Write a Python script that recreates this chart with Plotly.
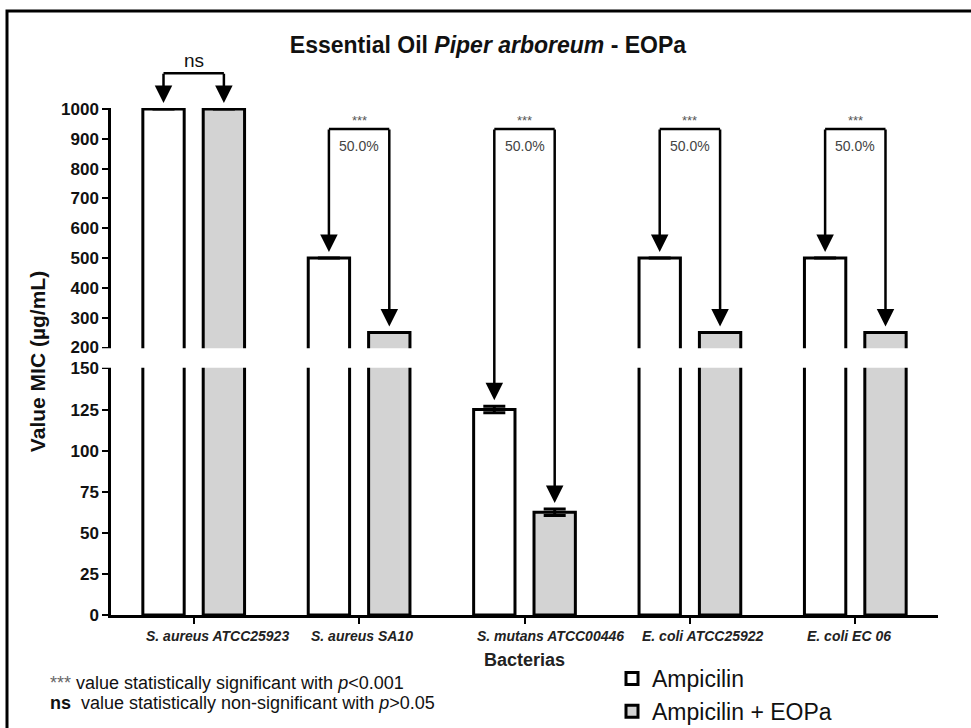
import plotly.graph_objects as go

# ---------------- data ----------------
categories = ["S. aureus ATCC25923", "S. aureus SA10", "S. mutans ATCC00446",
              "E. coli ATCC25922", "E. coli EC 06"]
ampicilin = [1000, 500, 125, 500, 500]
ampicilin_eopa = [1000, 250, 62.5, 250, 250]
err_ampicilin = [0, 0, 2, 0, 0]
err_eopa = [0, 0, 2, 0, 0]
significance = ["ns", "***", "***", "***", "***"]
reduction = ["", "50.0%", "50.0%", "50.0%", "50.0%"]
bracket_level = [1120, 933, 933, 933, 933]
lower_ticks = [0, 25, 50, 75, 100, 125, 150]
upper_ticks = [200, 300, 400, 500, 600, 700, 800, 900, 1000]

# ---------------- broken-axis mapping ----------------
BREAK_LO, BREAK_HI = 150, 200
GAP = 12.75            # display units for the gap
UPPER_SCALE = 0.1814   # display units per value unit above the break


def disp(v):
    if v <= (BREAK_LO + BREAK_HI) / 2:
        return v
    return BREAK_LO + GAP + (v - BREAK_HI) * UPPER_SCALE


def disp_err(vals, errs):
    return [disp(v + e) - disp(v) for v, e in zip(vals, errs)]


W, H = 971, 728
ML, MT = 111, 108
MR = W - 938
MB = H - 615
PW, PH = W - ML - MR, H - MT - MB
X_RANGE = [-0.5, 4.5]
Y_RANGE = [0, disp(1000) + 0.6]


def px_x(px):   # screen pixel -> paper x
    return (px - ML) / PW


def px_y(py):   # screen pixel -> paper y
    return (H - MB - py) / PH


def xp(x):      # data x -> paper x
    return (x - X_RANGE[0]) / (X_RANGE[1] - X_RANGE[0])


def yp(v):      # data value -> paper y (through the broken-axis mapping)
    return (disp(v) - Y_RANGE[0]) / (Y_RANGE[1] - Y_RANGE[0])


FONT = "Liberation Sans, Arial, sans-serif"
GRAY = "#d3d3d3"
BARGAP, GROUPGAP = 0.27, 0.315
OFF = (1 - BARGAP) / 4
xs = list(range(len(categories)))

fig = go.Figure()
fig.add_trace(go.Bar(
    x=xs, y=[disp(v) for v in ampicilin], name="Ampicilin",
    marker=dict(color="white", line=dict(color="black", width=3)),
    error_y=dict(type="data", array=disp_err(ampicilin, err_ampicilin),
                 color="black", thickness=3, width=11),
    hoverinfo="skip"))
fig.add_trace(go.Bar(
    x=xs, y=[disp(v) for v in ampicilin_eopa], name="Ampicilin + EOPa",
    marker=dict(color=GRAY, line=dict(color="black", width=3)),
    error_y=dict(type="data", array=disp_err(ampicilin_eopa, err_eopa),
                 color="black", thickness=3, width=11),
    hoverinfo="skip"))

shapes = [
    # white band hiding the axis break
    dict(type="rect", xref="paper", yref="paper", x0=-0.012, x1=1.0,
         y0=yp(BREAK_LO) + 0.0015, y1=yp(BREAK_HI) - 0.0015,
         fillcolor="white", line=dict(width=0), layer="above"),
    # outer frame (top & left visible)
    dict(type="rect", xref="paper", yref="paper", x0=px_x(7), x1=px_x(1000),
         y0=px_y(760), y1=px_y(11), line=dict(color="black", width=3), layer="above"),
]

annotations = []
for i in xs:
    lvl = disp(bracket_level[i])
    shapes.append(dict(type="line", xref="paper", yref="paper",
                       x0=xp(i - OFF), x1=xp(i + OFF),
                       y0=yp(bracket_level[i]), y1=yp(bracket_level[i]),
                       line=dict(color="black", width=2.5), layer="above"))
    for xc, top in [(i - OFF, ampicilin[i] + err_ampicilin[i]),
                    (i + OFF, ampicilin_eopa[i] + err_eopa[i])]:
        annotations.append(dict(
            x=xc, y=disp(top), xref="x", yref="y",
            ax=xc, ay=lvl, axref="x", ayref="y", text="",
            showarrow=True, arrowhead=2, arrowsize=1.4, arrowwidth=2.5,
            arrowcolor="black", standoff=6, borderpad=0))
    if significance[i] == "ns":
        annotations.append(dict(x=xp(i), y=yp(bracket_level[i]), yshift=0,
                                xref="paper", yref="paper",
                                xanchor="center", yanchor="bottom",
                                text="ns", showarrow=False,
                                font=dict(family=FONT, size=19, color="#111")))
    else:
        annotations.append(dict(x=xp(i), y=yp(bracket_level[i]), yshift=-1,
                                xref="paper", yref="paper",
                                xanchor="center", yanchor="bottom",
                                text=significance[i], showarrow=False,
                                font=dict(family=FONT, size=13, color="#555")))
        annotations.append(dict(x=xp(i), y=yp(bracket_level[i]), yshift=-7,
                                xref="paper", yref="paper",
                                xanchor="center", yanchor="top",
                                text=reduction[i], showarrow=False,
                                font=dict(family=FONT, size=14, color="#444")))

# category labels (left-aligned a little before each tick, as in the original)
for i in xs:
    annotations.append(dict(x=i, y=0, xref="x", yref="paper", xanchor="left",
                            yanchor="middle", xshift=-50, yshift=-21,
                            text=categories[i], showarrow=False,
                            font=dict(family=FONT, size=14, weight="bold",
                                      style="italic", color="#222")))
# x-axis title
annotations.append(dict(x=0.5, y=px_y(660), xref="paper", yref="paper",
                        xanchor="center", yanchor="middle", showarrow=False,
                        text="<b>Bacterias</b>",
                        font=dict(family=FONT, size=18, color="#222")))

# footnotes
annotations.append(dict(
    x=px_x(48), y=px_y(683), xref="paper", yref="paper",
    xanchor="left", yanchor="middle", showarrow=False,
    text="<span style='color:#666'>***</span> value statistically significant with <i>p</i>&lt;0.001",
    font=dict(family=FONT, size=18, color="#111")))
annotations.append(dict(
    x=px_x(48), y=px_y(703), xref="paper", yref="paper",
    xanchor="left", yanchor="middle", showarrow=False,
    text="<b>ns</b>  value statistically non-significant with <i>p</i>&gt;0.05",
    font=dict(family=FONT, size=18, color="#111")))

tickvals = [disp(t) for t in lower_ticks + upper_ticks]
ticktext = [str(t) for t in lower_ticks + upper_ticks]

fig.update_layout(
    width=W, height=H,
    margin=dict(l=ML, r=MR, t=MT, b=MB, autoexpand=False),
    paper_bgcolor="white", plot_bgcolor="white",
    barmode="group", bargap=BARGAP, bargroupgap=GROUPGAP,
    font=dict(family=FONT, color="black"),
    title=dict(text="<b>Essential Oil <i>Piper arboreum</i> - EOPa</b>",
               x=488 / W, xref="container", xanchor="center",
               y=1 - 45 / H, yref="container", yanchor="middle",
               font=dict(family=FONT, size=23, color="#111")),
    xaxis=dict(range=X_RANGE, tickmode="array", tickvals=xs, ticktext=categories,
               showticklabels=False,
               showline=True, linecolor="black", linewidth=2.5,
               ticks="outside", ticklen=6, tickwidth=2, tickcolor="black",
               showgrid=False, zeroline=False),
    yaxis=dict(range=Y_RANGE, tickmode="array", tickvals=tickvals,
               ticktext=ticktext, showline=True, linecolor="black", linewidth=2.5,
               ticks="outside", ticklen=6, tickwidth=2, tickcolor="black",
               showgrid=False, zeroline=False,
               tickfont=dict(family=FONT, size=17, weight="bold", color="#111"),
               title=dict(text="<b>Value MIC (µg/mL)</b>", standoff=10,
                          font=dict(family=FONT, size=21, color="#111"))),
    legend=dict(x=px_x(612), y=px_y(657), xanchor="left", yanchor="top",
                font=dict(family=FONT, size=23, color="#111"),
                bgcolor="rgba(0,0,0,0)", tracegroupgap=0, itemwidth=30),
    annotations=annotations,
    shapes=shapes,
)

fig.write_html(
    "out.html",
    config={"displayModeBar": False},
    post_script=("document.documentElement.style.overflow='hidden';"
                 "document.body.style.overflow='hidden';"
                 "document.body.style.margin='0';"),
)
